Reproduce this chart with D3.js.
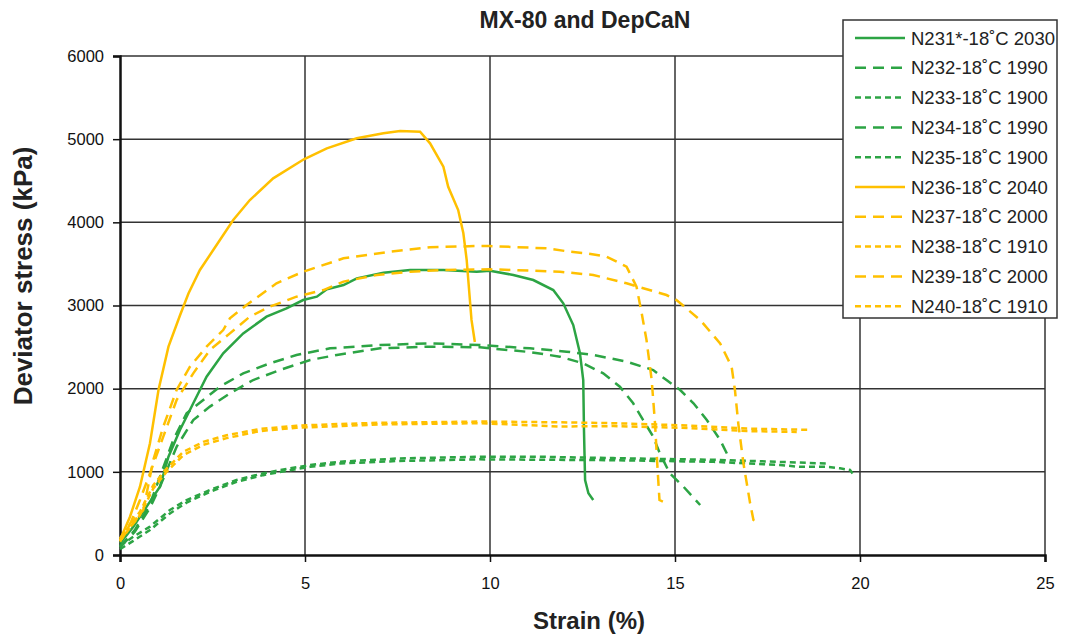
<!DOCTYPE html>
<html>
<head>
<meta charset="utf-8">
<script src="https://cdnjs.cloudflare.com/ajax/libs/d3/7.8.5/d3.min.js"></script>
<style>
  body { margin: 0; background: #fff; }
  text { font-family: "Liberation Sans", Arial, sans-serif; }
</style>
</head>
<body>
<div id="chart"></div>
<script>
// Width and height
var chart_width  = 1065;
var chart_height = 636;

var green  = '#2ca444';
var yellow = '#ffc000';

// Data (strain %, deviator stress kPa)
var n231 = [[0,140],[0.36,340],[0.72,581],[1.08,821],[1.31,1182],[1.62,1503],[1.98,1824],[2.34,2144],[2.79,2425],[3.33,2665],[3.96,2866],[4.5,2966],[4.95,3066],[5.32,3106],[5.59,3194],[6.04,3246],[6.4,3326],[7.12,3394],[7.84,3427],[8.74,3427],[9.64,3406],[10,3419],[10.63,3367],[11.17,3306],[11.71,3186],[11.98,3026],[12.25,2765],[12.43,2430],[12.52,2104],[12.54,1503],[12.57,902],[12.66,742],[12.79,661]];
var n232 = [[0,100],[0.4,300],[0.8,600],[1.08,942],[1.44,1383],[1.8,1704],[2.25,1864],[2.7,2024],[3.33,2184],[4.05,2305],[4.77,2405],[5.68,2485],[7.03,2525],[8.38,2545],[9.73,2525],[11.08,2485],[12.07,2445],[12.79,2405],[13.69,2325],[14.41,2224],[14.77,2104],[15.14,1984],[15.5,1824],[15.86,1623],[16.22,1383],[16.49,1142]];
var n233 = [[0,110],[0.36,220],[0.81,341],[1.35,541],[1.8,661],[2.43,781],[3.15,902],[3.87,982],[4.59,1042],[5.14,1082],[5.95,1122],[7.5,1160],[9.73,1182],[11.5,1180],[13.33,1165],[16.04,1145],[17.48,1125],[19.1,1100]];
var n234 = [[0,90],[0.4,280],[0.8,560],[1.08,821],[1.53,1302],[1.98,1623],[2.43,1784],[2.97,1944],[3.6,2104],[4.32,2224],[5.14,2345],[5.86,2405],[7.03,2485],[8.38,2505],[9.73,2497],[11.08,2440],[11.89,2385],[12.52,2305],[13.06,2184],[13.51,2024],[13.87,1824],[14.14,1623],[14.41,1423],[14.59,1222],[14.86,982],[15.23,821],[15.68,601]];
var n235 = [[0,70],[0.36,170],[0.81,300],[1.35,500],[1.8,630],[2.43,760],[3.15,880],[3.87,960],[4.59,1020],[5.14,1060],[5.95,1100],[7.5,1130],[9.73,1150],[13.33,1140],[16.04,1120],[17.84,1082],[18.38,1060],[19.1,1060],[19.46,1042],[19.73,1022],[19.8,980]];
var n236 = [[0,180],[0.27,460],[0.54,821],[0.81,1343],[1.04,1984],[1.31,2505],[1.62,2880],[1.85,3145],[2.16,3427],[2.52,3667],[3.06,4028],[3.51,4268],[4.14,4529],[4.97,4758],[5.59,4890],[6.4,5010],[7.12,5070],[7.57,5098],[8.11,5090],[8.38,4950],[8.74,4669],[8.87,4428],[9.14,4148],[9.28,3868],[9.37,3547],[9.5,2826],[9.59,2561]];
var n237 = [[0,170],[0.3,350],[0.63,541],[0.9,1142],[1.17,1543],[1.53,1984],[1.89,2264],[2.34,2505],[2.79,2705],[2.97,2846],[3.42,3006],[4.23,3267],[4.95,3406],[6.04,3567],[7.3,3647],[8.38,3700],[9.64,3715],[10,3715],[11.53,3687],[12.16,3647],[12.61,3627],[13.15,3587],[13.69,3467],[13.96,3226],[14.1,2906],[14.23,2585],[14.37,2104],[14.46,1583],[14.52,1102],[14.58,661],[14.68,641]];
var n238 = [[0,200],[0.54,520],[0.9,840],[1.26,1040],[1.71,1240],[2.25,1360],[2.88,1440],[3.78,1515],[4.77,1555],[5.95,1575],[7.03,1590],[9.73,1605],[11.9,1595],[13.33,1585],[15.14,1560],[16.94,1520],[18.6,1505]];
var n239 = [[0,160],[0.3,400],[0.54,661],[0.81,982],[1.17,1423],[1.53,1864],[1.98,2184],[2.43,2465],[2.97,2665],[3.51,2866],[4.05,2986],[4.77,3106],[5.5,3186],[6.04,3287],[6.94,3367],[7.84,3406],[8.74,3427],[10,3435],[10.63,3427],[11.89,3406],[12.79,3367],[13.69,3267],[14.77,3126],[15.04,3066],[15.68,2826],[16.22,2545],[16.53,2264],[16.62,1984],[16.71,1583],[16.85,1102],[17.03,622],[17.12,421],[17.3,381]];
var n240 = [[0,170],[0.54,480],[0.9,800],[1.26,1000],[1.71,1200],[2.25,1325],[2.88,1405],[3.78,1490],[4.77,1530],[5.95,1550],[7.03,1570],[9.73,1585],[11.9,1545],[13.33,1550],[15.14,1530],[16.94,1490],[18.29,1480]];

var series_names = ['N231*-18˚C 2030','N232-18˚C 1990','N233-18˚C 1900','N234-18˚C 1990','N235-18˚C 1900',
                    'N236-18˚C 2040','N237-18˚C 2000','N238-18˚C 1910','N239-18˚C 2000','N240-18˚C 1910'];
var series_data  = [n231, n232, n233, n234, n235, n236, n237, n238, n239, n240];

var x_ticks = [0, 5, 10, 15, 20, 25];
var y_ticks = [0, 1000, 2000, 3000, 4000, 5000, 6000];

// style per series: solid, long dash, short dash
var dash_long  = '11,7';
var dash_short = '6,4';
var styles = [
    { color: green,  dash: null },
    { color: green,  dash: dash_long },
    { color: green,  dash: dash_short },
    { color: green,  dash: dash_long },
    { color: green,  dash: dash_short },
    { color: yellow, dash: null },
    { color: yellow, dash: dash_long },
    { color: yellow, dash: dash_short },
    { color: yellow, dash: dash_long },
    { color: yellow, dash: dash_short }
];

// Scales
var x = d3.scaleLinear().domain([0, 25]).range([120, 1045]);
var y = d3.scaleLinear().domain([0, 6000]).range([555, 56]);

var svg = d3.select('#chart')
    .append('svg')
    .attr('width', chart_width)
    .attr('height', chart_height);

// grid
svg.append('g')
    .selectAll('line')
    .data(y_ticks.slice(1))
    .enter()
    .append('line')
    .attr('x1', x(0)).attr('x2', x(25))
    .attr('y1', function(d){ return y(d); })
    .attr('y2', function(d){ return y(d); })
    .style('stroke', '#333')
    .style('stroke-width', 1.5);

svg.append('g')
    .selectAll('line')
    .data(x_ticks.slice(1))
    .enter()
    .append('line')
    .attr('y1', y(0)).attr('y2', y(6000))
    .attr('x1', function(d){ return x(d); })
    .attr('x2', function(d){ return x(d); })
    .style('stroke', '#333')
    .style('stroke-width', 1.5);

// axes
var xAxis = d3.axisBottom(x).tickValues(x_ticks).tickSize(7).tickFormat(d3.format('d'));
var yAxis = d3.axisLeft(y).tickValues(y_ticks).tickSize(7).tickFormat(d3.format('d'));

var gx = svg.append('g')
    .attr('transform', 'translate(0,' + y(0) + ')')
    .call(xAxis);
var gy = svg.append('g')
    .attr('transform', 'translate(' + x(0) + ',0)')
    .call(yAxis);

[gx, gy].forEach(function(g){
    g.select('.domain').style('stroke', '#111').style('stroke-width', 2.5);
    g.selectAll('.tick line').style('stroke', '#111').style('stroke-width', 1.5);
    g.selectAll('.tick text')
        .style('font-size', '16.5px')
        .style('fill', '#111')
        .style('font-family', '"Liberation Sans", Arial, sans-serif');
});
gx.selectAll('.tick text').attr('y', 22).attr('dy', '0.71em');
gy.selectAll('.tick text').attr('x', -16);

// curves
var line = d3.line()
    .x(function(d){ return x(d[0]); })
    .y(function(d){ return y(d[1]); });

svg.append('g')
    .selectAll('path')
    .data(series_data)
    .enter()
    .append('path')
    .attr('d', line)
    .style('fill', 'none')
    .style('stroke', function(d, i){ return styles[i].color; })
    .style('stroke-width', 2.5)
    .style('stroke-dasharray', function(d, i){ return styles[i].dash; });

// titles
svg.append('text')
    .attr('x', 585).attr('y', 28)
    .attr('text-anchor', 'middle')
    .style('font-size', '23px')
    .style('font-weight', 'bold')
    .style('fill', '#222')
    .text('MX-80 and DepCaN');

svg.append('text')
    .attr('x', 589).attr('y', 629)
    .attr('text-anchor', 'middle')
    .style('font-size', '24px')
    .style('font-weight', 'bold')
    .style('fill', '#222')
    .text('Strain (%)');

svg.append('text')
    .attr('transform', 'translate(32,' + 276 + ') rotate(-90)')
    .attr('text-anchor', 'middle')
    .style('font-size', '26px')
    .style('font-weight', 'bold')
    .style('fill', '#222')
    .text('Deviator stress (kPa)');

// legend
var legend = svg.append('g').attr('transform', 'translate(843,20)');

legend.append('rect')
    .attr('width', 214)
    .attr('height', 298)
    .style('fill', '#fff')
    .style('stroke', '#333')
    .style('stroke-width', 1.5);

var items = legend.selectAll('g.item')
    .data(series_names)
    .enter()
    .append('g')
    .attr('class', 'item')
    .attr('transform', function(d, i){ return 'translate(0,' + (18 + i * 29.8) + ')'; });

items.append('line')
    .attr('x1', 12).attr('x2', 62)
    .attr('y1', 0).attr('y2', 0)
    .style('stroke', function(d, i){ return styles[i].color; })
    .style('stroke-width', 2.5)
    .style('stroke-dasharray', function(d, i){ return styles[i].dash; });

items.append('text')
    .attr('x', 68)
    .attr('y', 6.5)
    .style('font-size', '18.5px')
    .style('fill', '#222')
    .text(function(d){ return d; });
</script>
</body>
</html>
